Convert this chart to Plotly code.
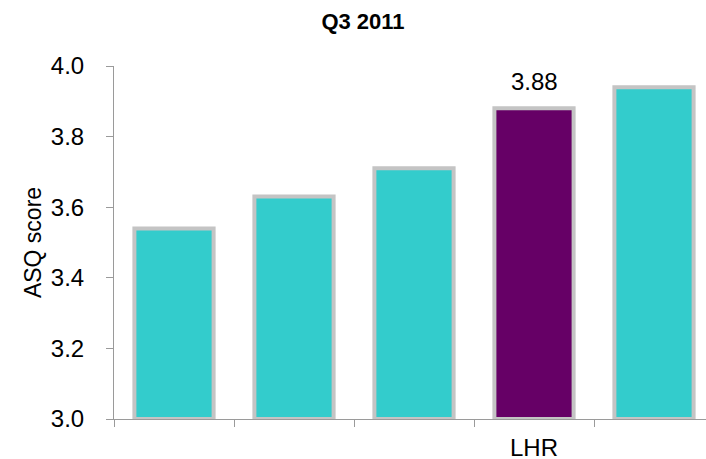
import plotly.graph_objects as go

positions = [0, 1, 2, 3, 4]
scores = [3.54, 3.63, 3.71, 3.88, 3.94]
bar_colors = ["#33CCCC", "#33CCCC", "#33CCCC", "#660066", "#33CCCC"]
tick_positions = [3]
tick_labels = ["LHR"]
label_index = 3
y_base = 3.0
y_ticks = [3.0, 3.2, 3.4, 3.6, 3.8, 4.0]

FONT = "Liberation Sans, Arial, sans-serif"

fig = go.Figure()
fig.add_trace(go.Bar(
    x=positions,
    y=[s - y_base for s in scores],
    base=y_base,
    width=0.66,
    marker=dict(color=bar_colors, line=dict(color="#C4C4C4", width=4)),
    hoverinfo="skip",
))

fig.add_annotation(
    x=positions[label_index], y=scores[label_index],
    text=f"{scores[label_index]:.2f}", showarrow=False,
    yanchor="bottom", yshift=11,
    font=dict(family=FONT, size=24, color="#000000"),
)

fig.update_layout(
    width=706, height=459,
    margin=dict(l=114, r=0, t=66, b=40, autoexpand=False),
    paper_bgcolor="white", plot_bgcolor="white",
    showlegend=False,
    title=dict(text="<b>Q3 2011</b>", x=363 / 706, xanchor="center",
               y=1 - 21 / 459, yanchor="middle",
               font=dict(family=FONT, size=22, color="#000000")),
    font=dict(family=FONT, color="#000000"),
)

fig.update_xaxes(
    range=[-0.5, -0.5 + 592 / 120],
    automargin=False,
    tickmode="array", tickvals=tick_positions, ticktext=tick_labels,
    ticks="", ticklabelstandoff=7,
    tickfont=dict(family=FONT, size=24, color="#000000"),
    showline=True, linecolor="#9A9A9A", linewidth=1,
    showgrid=False, zeroline=False,
    minor=dict(tickmode="array", tickvals=[-0.5, 0.5, 1.5, 2.5, 3.5, 4.5],
               ticks="outside", ticklen=7, tickcolor="#9A9A9A", tickwidth=1,
               showgrid=False),
)

fig.update_yaxes(
    range=[3.0, 4.0],
    automargin=False,
    tickmode="array", tickvals=y_ticks, ticktext=[f"{v:.1f}" for v in y_ticks],
    ticks="outside", ticklen=7, tickcolor="#9A9A9A", tickwidth=1,
    ticklabelstandoff=17,
    tickfont=dict(family=FONT, size=24, color="#000000"),
    showline=True, linecolor="#9A9A9A", linewidth=1,
    showgrid=False, zeroline=False,
    title=dict(text="ASQ score", standoff=2,
               font=dict(family=FONT, size=23, color="#000000")),
)

fig.write_html(
    "out.html",
    config={"displayModeBar": False},
    post_script="document.body.style.margin='0';document.body.style.padding='0';document.body.style.overflow='hidden';",
)
